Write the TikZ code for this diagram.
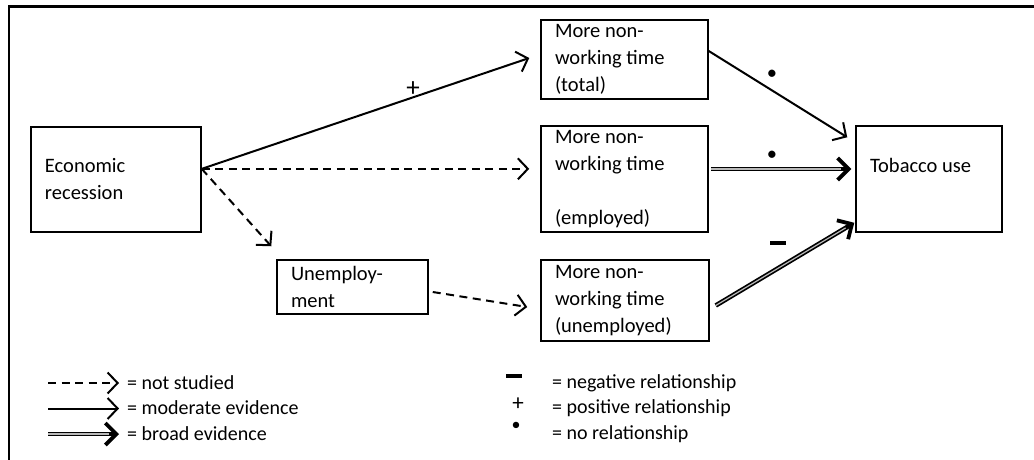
\documentclass[tikz,border=0pt]{standalone}
\usepackage{fontspec}
\setmainfont{Carlito}
\usetikzlibrary{arrows.meta,calc}
\begin{document}
\begin{tikzpicture}[x=1pt,y=-1pt,
  every node/.style={font=\fontsize{20.5}{27}\selectfont},
  box/.style={draw,line width=1.5pt,align=flush left,inner xsep=14pt,inner ysep=1pt},
  thin/.style={line width=2pt,-{Straight Barb[length=10pt,width=21pt,line width=2pt]}},
  notstudied/.style={thin,dash pattern=on 8pt off 5.5pt},
  broad/.style={line width=4.6pt,-{Straight Barb[length=11pt,width=22pt,line width=3.8pt]}},
  broadin/.style={line width=1.2pt,draw=gray!55,shorten >=10pt},
  sign/.style={inner sep=0pt},
  legtext/.style={anchor=base west,inner sep=0pt,font=\fontsize{20}{25}\selectfont}]
\useasboundingbox (0,0) rectangle (1034,459);
\draw[line width=2.6pt] (9,470) -- (9,6.5) -- (1040,6.5);

% boxes
\node[box,text width=142pt,minimum height=105pt] (econ) at (116,179.5) {Economic\\recession};
\node[box,text width=139pt,minimum height=79pt] (total) at (624.5,59.5) {More non-\\working time\\(total)};
\node[box,text width=139pt,minimum height=106pt] (emp) at (624.5,179) {More non-\\working time\\\mbox{}\\(employed)};
\node[box,text width=118pt,minimum height=106pt] (tob) at (929,179) {Tobacco use\\\mbox{}};
\node[box,text width=123pt,minimum height=54pt] (unemp) at (352.5,287) {Unemploy-\\ment};
\node[box,text width=140pt,minimum height=81pt] (uned) at (625,300.5) {More non-\\working time\\(unemployed)};

% connectors
\coordinate (src) at ($(econ.north east)!0.4!(econ.south east)$);
\draw[thin] (src) -- ($(total.west)+(-11,-1.5)$);
\draw[notstudied] (src) -- ($(src -| emp.west)+(-11,0)$);
\draw[notstudied] (src) -- ($(unemp.north west)+(-5,-13)$);
\draw[notstudied] ($(unemp.east)+(4,5)$) -- ($(uned.west)+(-13,6.5)$);
\draw[thin] ($(total.east)+(0,-8.5)$) -- ($(tob.north west)+(-8,12)$);
\coordinate (e1) at ($(emp.east)+(2,-10)$);
\coordinate (e2) at ($(tob.west)+(-4,-10)$);
\draw[broad] (e1) -- (e2);
\draw[broadin] (e1) -- (e2);
\coordinate (u1) at ($(uned.east)+(6,5)$);
\coordinate (u2) at ($(tob.south west)+(-1,-10)$);
\draw[broad] (u1) -- (u2);
\draw[broadin] (u1) -- (u2);

% relationship signs
\node[sign,font=\fontsize{27}{27}\selectfont] (plus1) at (413,89) {+};
\node[sign] (dot1) at (772,75) {•};
\node[sign] (dot2) at (772,156) {•};
\node[sign] (minus1) at (778,243) {\rule{16pt}{4.5pt}};

% legend left
\coordinate (l1a) at (48,383);  \coordinate (l1b) at (119,383);
\coordinate (l2a) at (48,408.5); \coordinate (l2b) at (119,408.5);
\coordinate (l3a) at (48,434);  \coordinate (l3b) at (119,434);
\draw[notstudied] (l1a) -- (l1b);
\draw[thin] (l2a) -- (l2b);
\draw[broad] (l3a) -- (l3b);
\draw[broadin] (l3a) -- (l3b);
\node[legtext] (t1) at (127,389) {= not studied};
\node[legtext] (t2) at (127,414.5) {= moderate evidence};
\node[legtext] (t3) at (127,440) {= broad evidence};

% legend right
\node[sign] (lminus) at (514,376) {\rule{16pt}{4.5pt}};
\node[sign,font=\fontsize{23}{23}\selectfont] (lplus) at (518,404) {+};
\node[sign,font=\fontsize{18}{18}\selectfont] (ldot) at (516,426) {•};
\node[legtext] (t4) at (552,388) {= negative relationship};
\node[legtext] (t5) at (552,413.5) {= positive relationship};
\node[legtext] (t6) at (552,439) {= no relationship};
\end{tikzpicture}
\end{document}
